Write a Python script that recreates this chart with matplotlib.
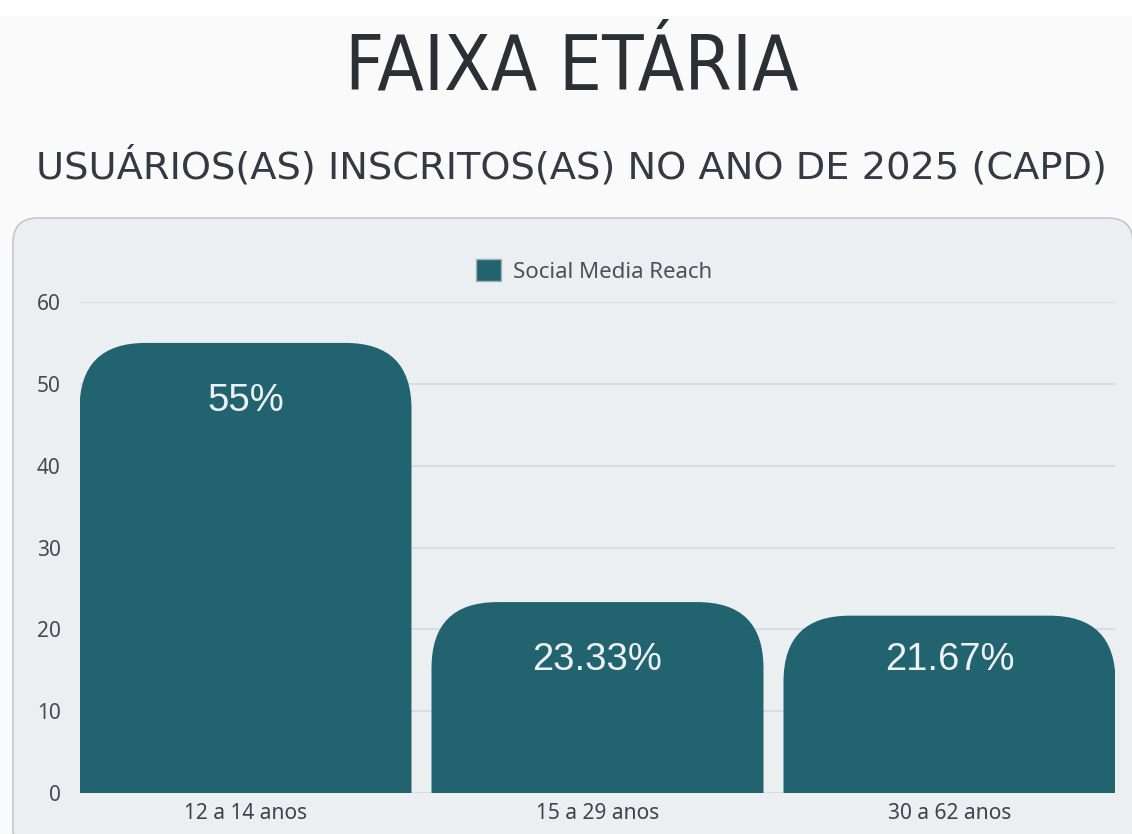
import matplotlib.pyplot as plt
from matplotlib import font_manager
from matplotlib.patches import FancyBboxPatch, Patch

# data
categories = ['12 a 14 anos', '15 a 29 anos', '30 a 62 anos']
values = [55, 23.33, 21.67]
labels = ['55%', '23.33%', '21.67%']
yticks = [0, 10, 20, 30, 40, 50, 60]
series_name = 'Social Media Reach'

bar_color = '#21636f'
panel_color = '#eceff2'

# look for a narrow face for the big title
narrow = None
for f in font_manager.fontManager.ttflist:
    if 'Narrow' in f.name or 'Condensed' in f.name or f.stretch in ('condensed', 'semi-condensed'):
        narrow = f
        break

W, H = 1132, 834
fig = plt.figure(figsize=(W / 100, H / 100), dpi=100, facecolor='#fafafa')

# white strip at the very top
fig.patches.append(plt.Rectangle((0, (H - 16) / H), 1, 16 / H, transform=fig.transFigure,
                                 facecolor='white', edgecolor='none', zorder=-2))

# rounded panel behind the chart
panel = FancyBboxPatch((0.13, -0.2), 11.2, 6.16 + 0.2,
                       boxstyle='round,pad=0,rounding_size=0.25',
                       transform=fig.dpi_scale_trans, facecolor=panel_color,
                       edgecolor='#c3c7ce', linewidth=1.2, zorder=-1)
fig.patches.append(panel)

# titles
if narrow is not None:
    tprops = dict(family=[narrow.name, 'DejaVu Sans'], stretch=narrow.stretch, fontsize=54.5)
else:
    tprops = dict(family=['DejaVu Sans'], fontsize=45)
fig.text(572 / W, (H - 90) / H, 'FAIXA ETÁRIA', ha='center', va='baseline',
         color='#2b2f36', **tprops)
fig.text(571 / W, (H - 178) / H, 'USUÁRIOS(AS) INSCRITOS(AS) NO ANO DE 2025 (CAPD)',
         ha='center', va='baseline', fontsize=27.6, color='#333a43',
         family=['DejaVu Sans'])

# axes
x0, x1 = 80, 1115
ytop, ybot = 302, 793
ax = fig.add_axes([x0 / W, (H - ybot) / H, (x1 - x0) / W, (ybot - ytop) / H], zorder=1)
ax.set_facecolor('none')

spacing = 352.0
bw = 332 / spacing
half = (x1 - x0) / spacing / 2
ax.set_xlim(1 - half, 1 + half)
ax.set_ylim(0, 60)
px_per_unit = (ybot - ytop) / 60.0

r_px = 66
rx = r_px / spacing
ry = r_px / px_per_unit

for i, (v, lab) in enumerate(zip(values, labels)):
    bar = FancyBboxPatch((i - bw / 2, -20), bw, v + 20,
                         boxstyle='round,pad=0,rounding_size=%f' % rx,
                         mutation_aspect=ry / rx, facecolor=bar_color,
                         edgecolor='none', zorder=2)
    ax.add_patch(bar)
    # label sits ~58px under the bar top, but never lower than the 23.33% one
    ly = max(v - 58 / px_per_unit, 16.3)
    ax.text(i, ly, lab, ha='center', va='center', fontsize=27.5,
            color='#eef1f3', family=['Liberation Sans', 'DejaVu Sans'], zorder=3)

ax.set_yticks(yticks)
ax.set_xticks(range(len(categories)))
ax.set_xticklabels(categories)
ax.grid(axis='y', color='#d6dadf', linewidth=1.2, zorder=1)
ax.set_axisbelow(True)
for s in ax.spines.values():
    s.set_visible(False)
ax.tick_params(axis='y', length=0, pad=14, labelsize=15, labelcolor='#444a52')
ax.tick_params(axis='x', length=0, pad=7, labelsize=15, labelcolor='#3d434b')
for t in ax.get_yticklabels() + ax.get_xticklabels():
    t.set_family(['Noto Sans', 'DejaVu Sans'])

leg = fig.legend(handles=[Patch(facecolor=bar_color, edgecolor='#9db3b8', label=series_name)],
                 loc='center', bbox_to_anchor=(594 / W, (H - 271) / H), frameon=False,
                 handlelength=1.12, handleheight=1.12, handletextpad=0.52,
                 prop={'family': ['Noto Sans', 'DejaVu Sans'], 'size': 16})
for t in leg.get_texts():
    t.set_color('#4a5059')

fig.savefig('out.png', dpi=100, facecolor=fig.get_facecolor())
